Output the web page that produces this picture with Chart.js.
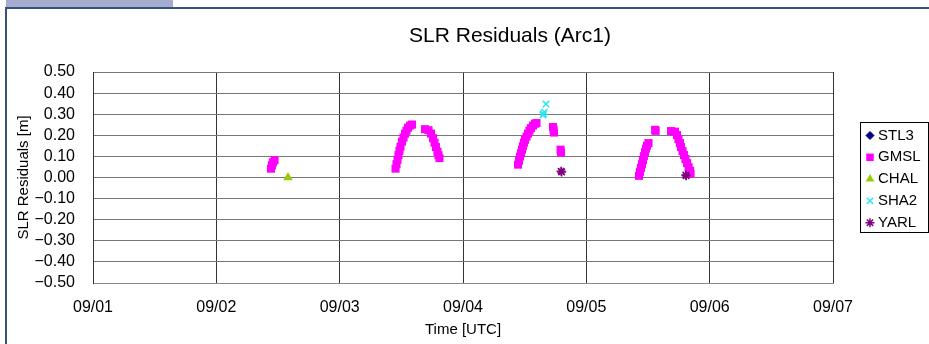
<!DOCTYPE html>
<html>
<head>
<meta charset="utf-8">
<title>SLR Residuals (Arc1)</title>
<script src="https://cdn.jsdelivr.net/npm/chart.js@4.4.1/dist/chart.umd.min.js"></script>
<style>
  body { margin: 0; background: #fff; }
  #wrap { position: relative; width: 929px; height: 344px; overflow: hidden; }
  #tab { position: absolute; left: 6px; top: 0; width: 167px; height: 7px; background: #a4adcf; }
  #frame { position: absolute; left: 5px; top: 7px; width: 1000px; height: 400px;
           border-top: 2px solid #34537f; border-left: 2px solid #34537f; }
  canvas { position: absolute; left: 0; top: 0; }
</style>
</head>
<body>
<div id="wrap">
  <div id="tab"></div>
  <div id="frame"></div>
  <canvas id="slrChart" width="929" height="344"></canvas>
</div>
<script>
/* 1. Data (time = day of September, residual in m) */
const titleText = "SLR Residuals (Arc1)";
const xTickLabels = ["09/01", "09/02", "09/03", "09/04", "09/05", "09/06", "09/07"];
const yTickLabels = ["−0.50", "−0.40", "−0.30", "−0.20", "−0.10", "0.00",
                     "0.10", "0.20", "0.30", "0.40", "0.50"];
const stationNames = ["STL3", "GMSL", "CHAL", "SHA2", "YARL"];

const stl3Day = [];
const stl3Res = [];

const gmslDay = [
  2.443, 2.451, 2.459, 2.472,
  3.453, 3.461, 3.469, 3.477, 3.485, 3.493, 3.505, 3.518, 3.530, 3.542, 3.554, 3.571, 3.587,
  3.692, 3.720, 3.741, 3.757, 3.769, 3.781, 3.793, 3.801, 3.809,
  4.446, 4.454, 4.462, 4.470, 4.478, 4.486, 4.495, 4.503, 4.515, 4.527, 4.539, 4.551, 4.568, 4.584, 4.596,
  4.730, 4.734, 4.738,
  4.791, 4.795,
  5.427, 5.435, 5.443, 5.451, 5.459, 5.467, 5.476, 5.484, 5.492, 5.504,
  5.558, 5.562,
  5.687, 5.719, 5.735, 5.747, 5.759, 5.768, 5.780, 5.792, 5.804, 5.817, 5.829, 5.841, 5.845
];
const gmslRes = [
  0.042, 0.058, 0.072, 0.082,
  0.042, 0.063, 0.084, 0.106, 0.127, 0.146, 0.170, 0.189, 0.208, 0.222, 0.236, 0.246, 0.251,
  0.229, 0.224, 0.208, 0.186, 0.165, 0.144, 0.122, 0.106, 0.092,
  0.061, 0.080, 0.099, 0.115, 0.132, 0.148, 0.165, 0.179, 0.194, 0.208, 0.222, 0.234, 0.246, 0.255, 0.258,
  0.239, 0.227, 0.213,
  0.132, 0.118,
  0.008, 0.027, 0.046, 0.063, 0.082, 0.101, 0.120, 0.137, 0.151, 0.163,
  0.226, 0.221,
  0.220, 0.217, 0.201, 0.182, 0.163, 0.144, 0.125, 0.106, 0.087, 0.068, 0.049, 0.032, 0.018
];

const chalDay = [2.581];
const chalRes = [0.0];

const sha2Day = [4.673, 4.660, 4.652, 4.648];
const sha2Res = [0.348, 0.310, 0.302, 0.296];

const yarlDay = [4.795, 4.800, 5.806, 5.810];
const yarlRes = [0.030, 0.026, 0.012, 0.008];

const FONT = "'Liberation Sans', Arial, sans-serif";

function toPoints(days, res) {
  return days.map((d, i) => ({ x: d, y: res[i] }));
}

/* 2. Title and boxed legend drawn on the canvas */
const chartTitle = {
  id: "chartTitle",
  afterDraw(chart) {
    const ctx = chart.ctx;
    ctx.save();
    ctx.font = "21px " + FONT;
    ctx.fillStyle = "#000";
    ctx.textAlign = "center";
    ctx.textBaseline = "middle";
    ctx.fillText(titleText, 510, 36);
    ctx.restore();
  },
};

const boxedLegend = {
  id: "boxedLegend",
  afterDraw(chart) {
    const ctx = chart.ctx;
    const left = chart.chartArea.right + 27;
    ctx.save();
    ctx.strokeStyle = "#000";
    ctx.lineWidth = 1;
    ctx.strokeRect(left + 0.5, 122.5, 68, 110);
    ctx.font = "15px " + FONT;
    ctx.textBaseline = "middle";
    chart.data.datasets.forEach((ds, i) => {
      const y = 135.5 + i * 21.8;
      ctx.fillStyle = ds.backgroundColor;
      ctx.strokeStyle = ds.borderColor;
      ctx.lineWidth = ds.borderWidth;
      Chart.helpers.drawPoint(
        ctx,
        { pointStyle: ds.pointStyle, radius: ds.legendRadius, rotation: 0, borderWidth: ds.borderWidth },
        left + 10,
        y
      );
      ctx.fillStyle = "#000";
      ctx.fillText(ds.label, left + 18, y);
    });
    ctx.restore();
  },
};

/* 3. Chart */
const ctx = document.getElementById("slrChart").getContext("2d");
new Chart(ctx, {
  type: "scatter",
  data: {
    datasets: [
      {
        label: stationNames[0],
        data: toPoints(stl3Day, stl3Res),
        pointStyle: "rectRot",
        backgroundColor: "#000080",
        borderColor: "#000080",
        borderWidth: 1,
        pointRadius: 4,
        legendRadius: 4,
        order: 4,
      },
      {
        label: stationNames[1],
        data: toPoints(gmslDay, gmslRes),
        pointStyle: "rect",
        backgroundColor: "#ff00ff",
        borderColor: "#ff00ff",
        borderWidth: 0,
        pointRadius: 5.7,
        legendRadius: 5.3,
        order: 3,
      },
      {
        label: stationNames[2],
        data: toPoints(chalDay, chalRes),
        pointStyle: "triangle",
        backgroundColor: "#99cc00",
        borderColor: "#99cc00",
        borderWidth: 0,
        pointRadius: 5.5,
        legendRadius: 5,
        order: 2,
      },
      {
        label: stationNames[3],
        data: toPoints(sha2Day, sha2Res),
        pointStyle: "crossRot",
        backgroundColor: "#2ee6f2",
        borderColor: "#2ee6f2",
        borderWidth: 1.5,
        pointRadius: 4.5,
        legendRadius: 4.5,
        order: 1,
      },
      {
        label: stationNames[4],
        data: toPoints(yarlDay, yarlRes),
        pointStyle: "star",
        backgroundColor: "#800080",
        borderColor: "#800080",
        borderWidth: 1.5,
        pointRadius: 4.5,
        legendRadius: 4.5,
        order: 0,
      },
    ],
  },
  options: {
    responsive: false,
    animation: false,
    devicePixelRatio: 1,
    layout: { padding: { top: 72, right: 96, left: 0, bottom: 0 } },
    plugins: {
      legend: { display: false },
      title: { display: false },
      tooltip: { enabled: false },
    },
    scales: {
      x: {
        type: "linear",
        min: 1,
        max: 7,
        afterFit: (scale) => { scale.height = 61; },
        grid: { color: "#333", drawTicks: false },
        border: { color: "#888", width: 1 },
        ticks: {
          stepSize: 1,
          autoSkip: false,
          padding: 15,
          color: "#000",
          font: { family: FONT, size: 16 },
          callback: (v) => xTickLabels[Math.round(v) - 1],
        },
        title: {
          display: true,
          text: "Time [UTC]",
          color: "#000",
          font: { family: FONT, size: 15 },
          padding: { top: 0, bottom: 5 },
        },
      },
      y: {
        min: -0.5,
        max: 0.5,
        afterFit: (scale) => { scale.width = 93; },
        grid: { color: "#777", drawTicks: false },
        border: { color: "#333", width: 1 },
        ticks: {
          stepSize: 0.1,
          autoSkip: false,
          padding: 18,
          color: "#000",
          font: { family: FONT, size: 16 },
          callback: (v) => yTickLabels[Math.round((v + 0.5) * 10)],
        },
        title: {
          display: true,
          text: "SLR Residuals [m]",
          color: "#000",
          font: { family: FONT, size: 15 },
          padding: { top: 15, bottom: 0 },
        },
      },
    },
  },
  plugins: [chartTitle, boxedLegend],
});
</script>
</body>
</html>
